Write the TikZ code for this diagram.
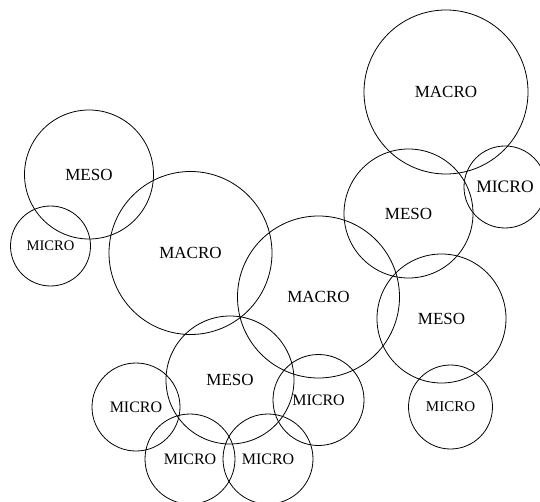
\documentclass[tikz,border=0pt]{standalone}
\usepackage{fontspec}
\setmainfont{Liberation Serif}
\usepackage{tikz}

\begin{document}
\begin{tikzpicture}[
    x=1pt, y=-1pt,
    ring/.style={circle, draw, line width=0.8pt, inner sep=0pt, font=\fontsize{17}{20}\selectfont},
    macro/.style={ring, minimum size=163pt},
    meso/.style={ring, minimum size=129pt},
    micro/.style={ring, minimum size=90pt, font=\fontsize{16}{19}\selectfont},
]
    \useasboundingbox (0,0) rectangle (540,502);
    \clip (0,0) rectangle (540,502);

    % Top right group
    \node[macro, minimum size=164pt] (macroA) at (446,92) {MACRO};
    \node[micro, minimum size=82pt, font=\fontsize{17.5}{20}\selectfont] (microE) at (505,187) {MICRO};
    \node[meso] (mesoD) at (408.5,213.5) {MESO};

    % Left group
    \node[meso] (mesoA) at (89,174.5) {MESO};
    \node[micro, minimum size=80pt, font=\fontsize{14.6}{17}\selectfont] (microA) at (50.5,246) {MICRO};

    % Centre
    \node[macro] (macroB) at (190.5,253) {MACRO};
    \node[macro, minimum size=162pt] (macroC) at (318.5,297) {MACRO};

    % Right lower group
    \node[meso] (mesoE) at (441.5,318.5) {MESO};
    \node[micro, minimum size=84pt, font=\fontsize{15}{18}\selectfont] (microF) at (450.5,407) {MICRO};

    % Bottom cluster
    \node[meso, minimum size=128pt] (mesoB) at (230,380) {MESO};
    \node[micro, minimum size=88pt] (microB) at (136,407) {MICRO};
    \node[micro, minimum size=91pt] (microD) at (318.5,400) {MICRO};
    \node[micro] (microC) at (190,459) {MICRO};
    \node[micro] (microG) at (268,459) {MICRO};
\end{tikzpicture}
\end{document}
